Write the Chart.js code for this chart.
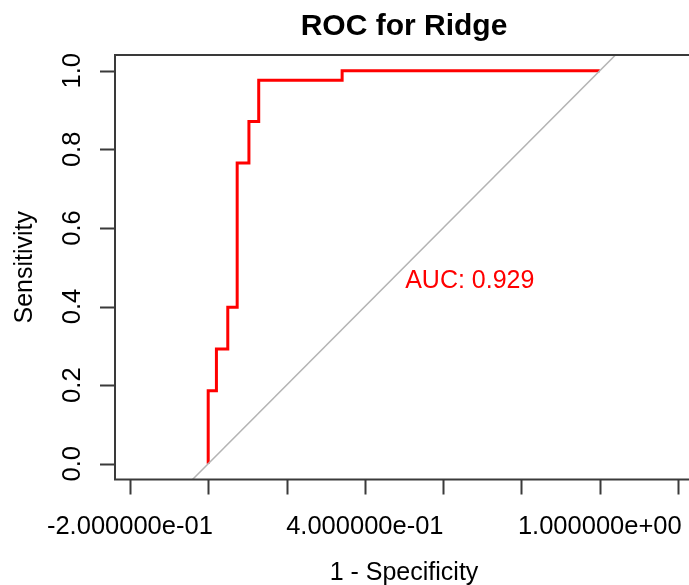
<!DOCTYPE html>
<html>
<head>
<meta charset="utf-8">
<script src="https://cdn.jsdelivr.net/npm/chart.js@4"></script>
<style>
  html, body { margin: 0; padding: 0; background: #fff; overflow: hidden; }
  #wrap { width: 700px; height: 585px; }
</style>
</head>
<body>
<div id="wrap"><canvas id="roc" width="700" height="585"></canvas></div>
<script>
// corners of the ROC steps (1 - specificity, sensitivity)
const fpr = [0, 0, 0.021, 0.021, 0.050, 0.050, 0.074, 0.074, 0.104, 0.104, 0.129, 0.129, 0.342, 0.342, 1.0];
const tpr = [0, 0.186, 0.186, 0.292, 0.292, 0.398, 0.398, 0.765, 0.765, 0.871, 0.871, 0.976, 0.976, 1.0, 1.0];

// chance line y = x
const diagX = [-0.3, 1.3];
const diagY = [-0.3, 1.3];

const xTicks = [-0.2, 0, 0.2, 0.4, 0.6, 0.8, 1.0, 1.2];
const xTickLabels = ['-2.000000e-01', '', '', '4.000000e-01', '', '', '1.000000e+00', ''];
const yTicks = [0, 0.2, 0.4, 0.6, 0.8, 1.0];
const yTickLabels = ['0.0', '0.2', '0.4', '0.6', '0.8', '1.0'];

const title = 'ROC for Ridge';
const xTitle = '1 - Specificity';
const yTitle = 'Sensitivity';
const aucLabel = 'AUC: 0.929';

const FONT = '"Liberation Sans", Arial, sans-serif';

// R-style box, ticks and texts
const rAxes = {
    id: 'rAxes',
    afterDraw(chart) {
        const ctx = chart.ctx;
        const a = chart.chartArea;
        const xs = chart.scales.x;
        const ys = chart.scales.y;

        ctx.save();
        ctx.strokeStyle = '#3a3a3a';
        ctx.lineWidth = 2;
        ctx.strokeRect(a.left, a.top, a.right - a.left, a.bottom - a.top);

        // x ticks
        ctx.beginPath();
        xTicks.forEach(v => {
            const px = Math.round(xs.getPixelForValue(v)) + 0.5;
            ctx.moveTo(px, a.bottom);
            ctx.lineTo(px, a.bottom + 15);
        });
        // y ticks
        yTicks.forEach(v => {
            const py = Math.round(ys.getPixelForValue(v)) + 0.5;
            ctx.moveTo(a.left, py);
            ctx.lineTo(a.left - 15, py);
        });
        ctx.stroke();

        ctx.fillStyle = '#000';
        ctx.font = '25.5px ' + FONT;
        ctx.textAlign = 'center';
        ctx.textBaseline = 'alphabetic';
        xTicks.forEach((v, i) => {
            if (xTickLabels[i]) ctx.fillText(xTickLabels[i], xs.getPixelForValue(v), 534);
        });
        ctx.font = '25px ' + FONT;
        ctx.fillText(xTitle, (a.left + a.right) / 2, 580);

        ctx.font = '25.5px ' + FONT;
        yTicks.forEach((v, i) => {
            ctx.save();
            ctx.translate(80, ys.getPixelForValue(v));
            ctx.rotate(-Math.PI / 2);
            ctx.fillText(yTickLabels[i], 0, 0);
            ctx.restore();
        });
        ctx.font = '25px ' + FONT;
        ctx.save();
        ctx.translate(32, (a.top + a.bottom) / 2);
        ctx.rotate(-Math.PI / 2);
        ctx.fillText(yTitle, 0, 0);
        ctx.restore();

        ctx.font = 'bold 30px ' + FONT;
        ctx.fillText(title, (a.left + a.right) / 2, 35);

        ctx.fillStyle = '#ff0000';
        ctx.font = '25px ' + FONT;
        ctx.fillText(aucLabel, xs.getPixelForValue(0.668), ys.getPixelForValue(0.448));
        ctx.restore();
    }
};

new Chart(document.getElementById('roc'), {
    type: 'scatter',
    data: {
        datasets: [
            {
                label: 'chance',
                data: diagX.map((x, i) => ({ x: x, y: diagY[i] })),
                showLine: true,
                borderColor: '#b4b4b4',
                borderWidth: 1.5,
                pointRadius: 0
            },
            {
                label: 'ROC',
                data: fpr.map((x, i) => ({ x: x, y: tpr[i] })),
                showLine: true,
                borderColor: '#ff0000',
                borderWidth: 3,
                pointRadius: 0,
                clip: false
            }
        ]
    },
    options: {
        responsive: false,
        animation: false,
        layout: { padding: { left: 115, top: 55, right: 7, bottom: 105.5 } },
        plugins: {
            legend: { display: false },
            tooltip: { enabled: false },
            title: { display: false }
        },
        scales: {
            x: { type: 'linear', min: -0.238, max: 1.238, display: false },
            y: { type: 'linear', min: -0.04, max: 1.04, display: false }
        }
    },
    plugins: [rAxes]
});
</script>
</body>
</html>
